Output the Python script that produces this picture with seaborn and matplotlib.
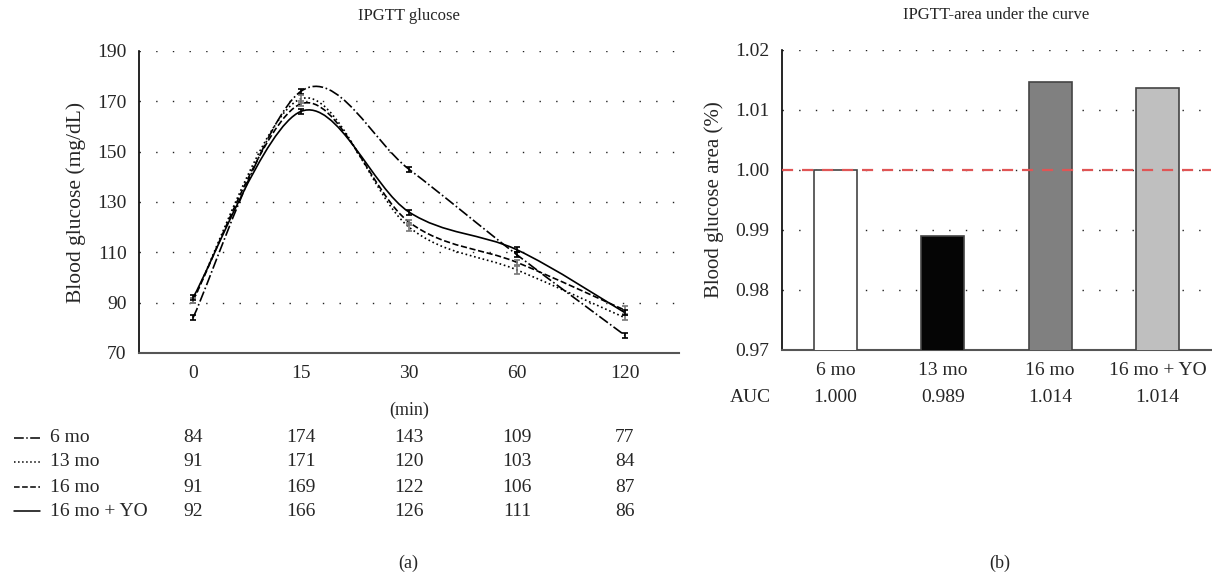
import numpy as np
import pandas as pd
import matplotlib
matplotlib.use("Agg")
import matplotlib.pyplot as plt
import seaborn as sns
from matplotlib.path import Path
from matplotlib.patches import PathPatch
from matplotlib.lines import Line2D
from matplotlib.transforms import blended_transform_factory

# data
times = ["0", "15", "30", "60", "120"]
groups = ["6 mo", "13 mo", "16 mo", "16 mo + YO"]
g_6mo = [84, 174, 143, 109, 77]
g_13mo = [91, 171, 120, 103, 84]
g_16mo = [91, 169, 122, 106, 87]
g_16yo = [92, 166, 126, 111, 86]
err_6mo = [1, 1, 1, 1, 1]
err_13mo = [1, 1.5, 1.5, 1.5, 1]
err_16mo = [1, 1, 1, 1, 1.5]
err_16yo = [1, 1, 1, 1, 1]

auc_bars = [1.000, 0.9890, 1.0146, 1.0137]
auc_text = ["1.000", "0.989", "1.014", "1.014"]

sns.set_theme(style="white")
plt.rcParams['font.family'] = ['Liberation Serif', 'DejaVu Serif']

fig = plt.figure(figsize=(12.12, 5.78), dpi=100)
ax1 = fig.add_axes([0.1147, 0.3893, 0.4455, 0.5225])
ax2 = fig.add_axes([0.6452, 0.3945, 0.354, 0.519])

styles = ['-.', ':', '--', '-']
err_colors = ['black', '#777777', '#777777', 'black']
series = [g_6mo, g_13mo, g_16mo, g_16yo]
errs = [err_6mo, err_13mo, err_16mo, err_16yo]
grid_ls = (0, (1, 11))


def smooth_path(x, y):
    # excel-like smoothed line (bezier through the points)
    x = np.asarray(x, float)
    y = np.asarray(y, float)
    px = np.concatenate([[x[0]], x, [x[-1]]])
    py = np.concatenate([[y[0]], y, [y[-1]]])
    verts = [(x[0], y[0])]
    codes = [Path.MOVETO]
    for i in range(len(x) - 1):
        j = i + 1
        c1 = (px[j] + (px[j + 1] - px[j - 1]) / 6, py[j] + (py[j + 1] - py[j - 1]) / 6)
        c2 = (px[j + 1] - (px[j + 2] - px[j]) / 6, py[j + 1] - (py[j + 2] - py[j]) / 6)
        verts += [c1, c2, (x[i + 1], y[i + 1])]
        codes += [Path.CURVE4] * 3
    return Path(verts, codes)


xpos = np.arange(len(times))
for vals, e, ls, ec in zip(series, errs, styles, err_colors):
    patch = PathPatch(smooth_path(xpos, vals), fill=False, edgecolor='black',
                      linestyle=ls, linewidth=1.2, zorder=3)
    ax1.add_patch(patch)
    ax1.errorbar(xpos, vals, yerr=e, fmt='none', ecolor=ec, elinewidth=1.2,
                 capsize=2.5, capthick=1.2, zorder=4)

ax1.set_xlim(-0.5, 4.5)
ax1.set_ylim(70, 190)
ax1.set_yticks(range(70, 191, 20))
ax1.set_xticks(xpos)
ax1.set_xticklabels(times)
for yv in range(90, 191, 20):
    ax1.axhline(yv, color='#222222', linestyle=grid_ls, linewidth=1, zorder=1)
ax1.set_title("IPGTT glucose", fontsize=12, pad=22)
ax1.set_ylabel("Blood glucose (mg/dL)", fontsize=15.5, labelpad=8)
ax1.set_xlabel("(min)", fontsize=13, labelpad=14)
ax1.tick_params(axis='both', length=0, labelsize=14, pad=9)

# right panel bars
df_auc = pd.DataFrame({'group': groups, 'auc': auc_bars})
sns.barplot(data=df_auc, x='group', y='auc', hue='group', ax=ax2,
            palette=['white', '#050505', '#808080', '#bfbfbf'], legend=False,
            width=0.4, edgecolor='#444444', linewidth=1.2, zorder=3)
ax2.set_ylim(0.97, 1.02)
ax2.set_xlim(-0.5, 3.5)
ax2.set_yticks([0.97, 0.98, 0.99, 1.00, 1.01, 1.02])
ax2.set_yticklabels(["0.97", "0.98", "0.99", "1.00", "1.01", "1.02"])
for yv in [0.98, 0.99, 1.00, 1.01, 1.02]:
    ax2.axhline(yv, color='#222222', linestyle=grid_ls, linewidth=1, zorder=1)
ax2.axhline(1.0, color='#e05555', linestyle=(0, (5, 4)), linewidth=1.6, zorder=5)
ax2.set_title("IPGTT-area under the curve", fontsize=12, pad=22)
ax2.set_ylabel("Blood glucose area (%)", fontsize=15, labelpad=8)
ax2.set_xlabel("")
ax2.tick_params(axis='both', length=0, labelsize=14, pad=9)

for a in (ax1, ax2):
    sns.despine(ax=a)
    a.spines['left'].set_color('black')
    a.spines['bottom'].set_color('#555555')
    a.spines['left'].set_linewidth(1.2)
    a.spines['bottom'].set_linewidth(1.5)

# table under left chart
tr1 = blended_transform_factory(ax1.transData, fig.transFigure)
row_y = [1 - 438 / 578, 1 - 462 / 578, 1 - 487 / 578, 1 - 511 / 578]
for name, vals, ls, yy in zip(groups, series, styles, row_y):
    fig.add_artist(Line2D([14 / 1212, 40 / 1212], [yy, yy], color='black',
                          linestyle=ls, linewidth=1.1))
    fig.text(50 / 1212, yy, name, fontsize=14, va='center', ha='left')
    for xi, v in zip(xpos, vals):
        ax1.text(xi, yy, str(v), transform=tr1, fontsize=14, va='center', ha='center')

# AUC row under right chart
tr2 = blended_transform_factory(ax2.transData, fig.transFigure)
auc_y = 1 - 398 / 578
fig.text(750 / 1212, auc_y, "AUC", fontsize=14, va='center', ha='center')
for xi, t in enumerate(auc_text):
    ax2.text(xi, auc_y, t, transform=tr2, fontsize=14, va='center', ha='center')

fig.text(408 / 1212, 1 - 563 / 578, "(a)", fontsize=13, ha='center', va='center')
fig.text(1000 / 1212, 1 - 563 / 578, "(b)", fontsize=13, ha='center', va='center')

fig.savefig("out.png", dpi=100)
